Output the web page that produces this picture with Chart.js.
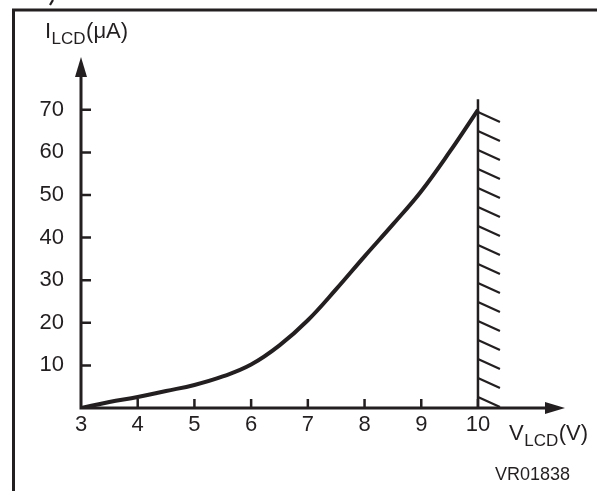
<!DOCTYPE html>
<html>
<head>
<meta charset="utf-8">
<script src="https://cdn.jsdelivr.net/npm/chart.js@4"></script>
<style>
  html, body { margin: 0; padding: 0; background: #fff; }
  #wrap { width: 597px; height: 491px; position: relative; }
</style>
</head>
<body>
<div id="wrap"><canvas id="c"></canvas></div>
<script>
// Data
const vlcd = [3, 3.5, 4, 4.5, 5, 5.5, 6, 6.5, 7, 7.5, 8, 8.5, 9, 9.5, 10];
const ilcd = [0, 1.4, 2.6, 4.0, 5.4, 7.4, 10.2, 14.7, 20.6, 27.9, 35.6, 43.1, 50.9, 60.1, 70.0];
const xTickValues = [3, 4, 5, 6, 7, 8, 9, 10];
const yTickValues = [10, 20, 30, 40, 50, 60, 70];
const yTitleMain = 'I', yTitleSub = 'LCD', yTitleUnit = '(μA)';
const xTitleMain = 'V', xTitleSub = 'LCD', xTitleUnit = '(V)';
const figCode = 'VR01838';
const limitV = 10;

const INK = '#231f20';
const FONT = "'Liberation Sans', Arial, Helvetica, sans-serif";

const decor = {
  id: 'decor',
  afterDatasetsDraw(chart) {
    const ctx = chart.ctx;
    const xs = chart.scales.x, ys = chart.scales.y;
    const x0 = xs.getPixelForValue(3), y0 = ys.getPixelForValue(0);
    const xEnd = xs.right, yTop = ys.top;
    ctx.save();
    ctx.strokeStyle = INK; ctx.fillStyle = INK;
    ctx.lineCap = 'butt';

    // frame (top and left)
    ctx.lineWidth = 3;
    ctx.beginPath();
    ctx.moveTo(13.5, 491); ctx.lineTo(13.5, 10); ctx.lineTo(597, 10);
    ctx.stroke();
    // fragment of caption above frame
    ctx.lineWidth = 2.2;
    ctx.beginPath(); ctx.moveTo(50, 5); ctx.lineTo(53, 0); ctx.stroke();

    // axes
    ctx.lineWidth = 3;
    ctx.beginPath();
    ctx.moveTo(x0, y0 + 1.5); ctx.lineTo(x0, yTop + 16);
    ctx.moveTo(x0 - 1.5, y0); ctx.lineTo(xEnd - 16, y0);
    ctx.stroke();
    // arrowheads
    ctx.beginPath();
    ctx.moveTo(x0, yTop); ctx.lineTo(x0 - 6, yTop + 20); ctx.lineTo(x0 + 6, yTop + 20); ctx.closePath();
    ctx.fill();
    ctx.beginPath();
    ctx.moveTo(xEnd, y0); ctx.lineTo(xEnd - 20, y0 - 6); ctx.lineTo(xEnd - 20, y0 + 6); ctx.closePath();
    ctx.fill();

    // tick marks (inward)
    ctx.lineWidth = 2.5;
    ctx.beginPath();
    xTickValues.forEach(v => {
      if (v === 3) return;
      const px = xs.getPixelForValue(v);
      ctx.moveTo(px, y0); ctx.lineTo(px, y0 - 9);
    });
    yTickValues.forEach(v => {
      const py = ys.getPixelForValue(v);
      ctx.moveTo(x0, py); ctx.lineTo(x0 + 10, py);
    });
    ctx.stroke();

    // limit line with hatching
    const lx = xs.getPixelForValue(limitV);
    ctx.lineWidth = 2.5;
    ctx.beginPath();
    ctx.moveTo(lx, y0); ctx.lineTo(lx, ys.getPixelForValue(72.5));
    ctx.stroke();
    ctx.lineWidth = 2.2;
    ctx.beginPath();
    for (let hy = y0 - 11; hy > ys.getPixelForValue(70.5); hy -= 19) {
      ctx.moveTo(lx, hy); ctx.lineTo(lx + 22, hy + 10);
    }
    ctx.stroke();

    // axis titles
    ctx.textBaseline = 'alphabetic';
    ctx.textAlign = 'left';
    const drawSub = (x, y, main, sub, unit) => {
      ctx.font = '22px ' + FONT;
      ctx.fillText(main, x, y);
      x += ctx.measureText(main).width + 0.5;
      ctx.font = '17px ' + FONT;
      ctx.fillText(sub, x, y + 6);
      x += ctx.measureText(sub).width + 0.5;
      ctx.font = '22px ' + FONT;
      ctx.fillText(unit, x, y);
    };
    drawSub(45, 38, yTitleMain, yTitleSub, yTitleUnit);
    drawSub(509, 440, xTitleMain, xTitleSub, xTitleUnit);

    ctx.font = '18px ' + FONT;
    ctx.fillText(figCode, 495, 480);
    ctx.restore();
  }
};

new Chart(document.getElementById('c'), {
  type: 'line',
  data: {
    datasets: [{
      data: vlcd.map((v, i) => ({ x: v, y: ilcd[i] })),
      borderColor: INK,
      borderWidth: 4,
      pointRadius: 0,
      tension: 0.4,
      fill: false
    }]
  },
  options: {
    responsive: true,
    maintainAspectRatio: false,
    animation: false,
    devicePixelRatio: 1,
    layout: { padding: { left: 0, right: 32, top: 57, bottom: 0 } },
    plugins: { legend: { display: false }, tooltip: { enabled: false }, title: { display: false } },
    scales: {
      x: {
        type: 'linear',
        min: 3,
        max: 3 + 484 / 56.71,
        border: { display: false },
        grid: { display: false },
        afterBuildTicks: s => { s.ticks = xTickValues.map(v => ({ value: v })); },
        afterFit: s => { s.height = 83; },
        ticks: { color: INK, font: { family: FONT, size: 22 }, padding: -4, maxRotation: 0, autoSkip: false,
                 callback: v => String(v) }
      },
      y: {
        type: 'linear',
        min: 0,
        max: 351 / 4.26,
        border: { display: false },
        grid: { display: false },
        afterBuildTicks: s => { s.ticks = yTickValues.map(v => ({ value: v })); },
        afterFit: s => { s.width = 81; },
        ticks: { color: INK, font: { family: FONT, size: 22 }, padding: 9, autoSkip: false,
                 callback: v => String(v) }
      }
    }
  },
  plugins: [decor]
});
</script>
</body>
</html>
